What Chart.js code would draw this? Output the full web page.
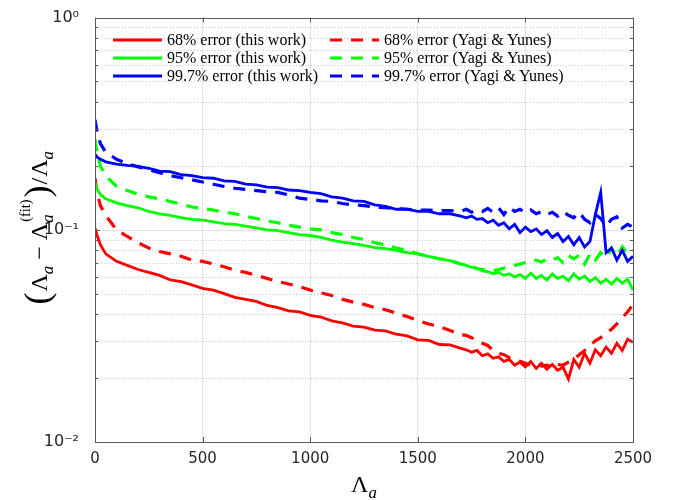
<!DOCTYPE html>
<html>
<head>
<meta charset="utf-8">
<script src="https://cdn.jsdelivr.net/npm/chart.js@4.4.1/dist/chart.umd.min.js"></script>
<style>
    html, body { margin: 0; padding: 0; background: #fff; }
    #wrap { position: relative; width: 688px; height: 500px; }
    #chart { display: block; }
    #legend {
        position: absolute; left: 113px; top: 31px;
        display: grid; grid-template-rows: repeat(3, 18px); grid-auto-flow: column;
        grid-template-columns: 217px auto;
        font-family: "Liberation Serif", serif; font-size: 16px; color: #000;
    }
    .item { display: flex; align-items: center; white-space: nowrap; }
    .item svg { margin-right: 5px; }
</style>
</head>
<body>
<div id="wrap">
    <canvas id="chart" width="688" height="500"></canvas>
    <div id="legend"></div>
</div>
<script>
"use strict";

/* ---------- data ---------- */

const lambdaA = [
    0, 10, 25,
    50, 100, 150, 200, 250, 300, 350, 400, 450, 500,
    550, 600, 650, 700, 750, 800, 850, 900, 950, 1000,
    1050, 1100, 1150, 1200, 1250, 1300, 1350, 1400, 1450, 1500,
    1550, 1600, 1650, 1700,
    1725, 1750, 1775, 1800, 1825, 1850, 1875, 1900, 1925, 1950,
    1975, 2000, 2025, 2050, 2075, 2100, 2125, 2150, 2175, 2200,
    2225, 2250, 2275, 2300, 2325, 2350, 2375, 2400, 2425, 2450,
    2475, 2500
];

const err68This = [
    0.102, 0.094, 0.085,
    0.077, 0.071, 0.068, 0.065, 0.063, 0.061, 0.058, 0.057, 0.055, 0.053,
    0.052, 0.050, 0.048, 0.047, 0.046, 0.044, 0.043, 0.0415, 0.041, 0.0395,
    0.0388, 0.0372, 0.0364, 0.0352, 0.0348, 0.0337, 0.0334, 0.0322, 0.0316, 0.0303,
    0.0301, 0.0288, 0.0287, 0.0276,
    0.0272, 0.0265, 0.027, 0.0255, 0.026, 0.0248, 0.0252, 0.024, 0.0245, 0.023,
    0.0238, 0.0226, 0.024, 0.0222, 0.0235, 0.022, 0.0232, 0.0218, 0.0225, 0.0198,
    0.0245, 0.0225, 0.0262, 0.0235, 0.0272, 0.0255, 0.028, 0.0262, 0.0292, 0.027,
    0.0305, 0.0295
];

const err95This = [
    0.167, 0.155, 0.147,
    0.140, 0.134, 0.130, 0.127, 0.122, 0.119, 0.117, 0.114, 0.112, 0.111,
    0.109, 0.107, 0.106, 0.104, 0.102, 0.100, 0.099, 0.097, 0.095, 0.094,
    0.092, 0.0895, 0.0875, 0.086, 0.0845, 0.0825, 0.0815, 0.080, 0.078, 0.077,
    0.075, 0.073, 0.0715, 0.069,
    0.068, 0.0665, 0.066, 0.064, 0.0635, 0.062, 0.063, 0.061, 0.062, 0.060,
    0.0615, 0.059, 0.0625, 0.059, 0.061, 0.058, 0.062, 0.059, 0.0605, 0.0575,
    0.062, 0.0585, 0.0605, 0.057, 0.0595, 0.056, 0.0585, 0.0555, 0.059, 0.056,
    0.0585, 0.052
];

const err997This = [
    0.227, 0.220, 0.215,
    0.209, 0.204, 0.201, 0.199, 0.195, 0.189, 0.188, 0.182, 0.180, 0.176,
    0.175, 0.170, 0.169, 0.164, 0.163, 0.159, 0.158, 0.154, 0.153, 0.150,
    0.148, 0.143, 0.141, 0.137, 0.136, 0.131, 0.129, 0.125, 0.125, 0.122,
    0.122, 0.119, 0.119, 0.116,
    0.114, 0.116, 0.112, 0.113, 0.108, 0.111, 0.105, 0.108, 0.101, 0.106,
    0.097, 0.103, 0.098, 0.101, 0.095, 0.099, 0.092, 0.096, 0.088, 0.093,
    0.085, 0.092, 0.083, 0.088, 0.118, 0.150, 0.078, 0.082, 0.072, 0.080,
    0.071, 0.075
];

const err68Yagi = [
    0.175, 0.150, 0.130,
    0.117, 0.100, 0.093, 0.087, 0.082, 0.079, 0.077, 0.075, 0.072, 0.071,
    0.069, 0.067, 0.0645, 0.063, 0.061, 0.059, 0.057, 0.0555, 0.054, 0.052,
    0.0505, 0.049, 0.047, 0.0456, 0.0445, 0.043, 0.042, 0.0405, 0.039, 0.0374,
    0.036, 0.035, 0.0335, 0.032,
    0.0318, 0.031, 0.0302, 0.0292, 0.0285, 0.027, 0.0262, 0.0258, 0.025, 0.0245,
    0.024, 0.0235, 0.023, 0.0235, 0.0228, 0.023, 0.0225, 0.0232, 0.023, 0.0238,
    0.0245, 0.0258, 0.027, 0.0285, 0.030, 0.031, 0.0325, 0.034, 0.036, 0.0385,
    0.041, 0.0445
];

const err95Yagi = [
    0.267, 0.230, 0.200,
    0.180, 0.160, 0.153, 0.147, 0.143, 0.140, 0.136, 0.132, 0.128, 0.126,
    0.124, 0.121, 0.119, 0.116, 0.113, 0.110, 0.108, 0.105, 0.103, 0.101,
    0.100, 0.097, 0.095, 0.092, 0.090, 0.087, 0.085, 0.082, 0.080, 0.077,
    0.075, 0.073, 0.0715, 0.069,
    0.068, 0.067, 0.0655, 0.065, 0.064, 0.064, 0.065, 0.066, 0.0665, 0.068,
    0.069, 0.070, 0.071, 0.072, 0.0705, 0.073, 0.072, 0.074, 0.070, 0.0755,
    0.073, 0.076, 0.069, 0.077, 0.072, 0.078, 0.074, 0.082, 0.075, 0.083,
    0.077, 0.080
];

const err997Yagi = [
    0.330, 0.290, 0.255,
    0.232, 0.215, 0.205, 0.198, 0.192, 0.186, 0.180, 0.176, 0.172, 0.168,
    0.164, 0.160, 0.157, 0.155, 0.153, 0.151, 0.150, 0.146, 0.141, 0.139,
    0.137, 0.136, 0.133, 0.131, 0.130, 0.128, 0.127, 0.126, 0.125, 0.124,
    0.124, 0.123, 0.123, 0.122,
    0.125, 0.121, 0.124, 0.122, 0.126, 0.121, 0.127, 0.118, 0.128, 0.122,
    0.125, 0.120, 0.124, 0.119, 0.122, 0.118, 0.121, 0.116, 0.122, 0.117,
    0.114, 0.121, 0.112, 0.108, 0.118, 0.113, 0.104, 0.112, 0.115, 0.102,
    0.106, 0.103
];

const seriesLabels = [
    "68% error (this work)",
    "95% error (this work)",
    "99.7% error (this work)",
    "68% error (Yagi & Yunes)",
    "95% error (Yagi & Yunes)",
    "99.7% error (Yagi & Yunes)"
];

const xTicks = [0, 500, 1000, 1500, 2000, 2500];
const yDecades = [0.01, 0.1, 1];
const yDecadeLabels = ["10\u207B\u00B2", "10\u207B\u00B9", "10\u2070"];


/* ---------- styles ---------- */

const RED = "#ff0000";
const GREEN = "#00ff00";
const BLUE = "#0000ff";
const DASH = [12, 9];
const TEXT = "#262626";
const AXIS = "#5a5a5a";
const MATH_FONT = '"Liberation Serif", serif';


function toPoints(values) {
    return values.map((v, i) => ({ x: lambdaA[i], y: v }));
}

function makeSet(label, values, color, dashed) {
    return {
        label: label,
        data: toPoints(values),
        borderColor: color,
        backgroundColor: color,
        borderWidth: dashed ? 3.2 : 2.8,
        borderDash: dashed ? DASH : [],
        pointRadius: 0,
        tension: 0,
        fill: false
    };
}

const datasets = [
    makeSet(seriesLabels[0], err68This, RED, false),
    makeSet(seriesLabels[1], err95This, GREEN, false),
    makeSet(seriesLabels[2], err997This, BLUE, false),
    makeSet(seriesLabels[3], err68Yagi, RED, true),
    makeSet(seriesLabels[4], err95Yagi, GREEN, true),
    makeSet(seriesLabels[5], err997Yagi, BLUE, true)
];


/* ---------- small math-text helper (sub/superscripts) ---------- */

function drawRuns(ctx, runs, size, align) {
    let x = 0, prevStart = 0, prevW = 0;
    const placed = [];
    runs.forEach(r => {
        const fs = size * (r.scale || 1);
        const font = (r.italic ? "italic " : "") + fs + "px " + MATH_FONT;
        ctx.font = font;
        const w = ctx.measureText(r.text).width;
        let start = x + (r.gap || 0);
        if (r.stack) {
            start = prevStart + (r.gap || 0);
            x = Math.max(prevStart + prevW, start + w);
        } else {
            x = start + w;
        }
        placed.push({ text: r.text, font: font, x: start, dy: r.dy || 0 });
        if (!r.stack) {
            prevStart = start;
            prevW = w;
        }
    });
    const off = align === "center" ? -x / 2 : 0;
    ctx.fillStyle = "#000";
    ctx.textBaseline = "alphabetic";
    ctx.textAlign = "left";
    placed.forEach(p => {
        ctx.font = p.font;
        ctx.fillText(p.text, off + p.x, p.dy);
    });
}

const yTitleRuns = [
    { text: "(", scale: 1.5, dy: 2 },
    { text: "\u039B", gap: 1 },
    { text: "a", italic: true, scale: 0.7, dy: 6 },
    { text: " \u2212 " },
    { text: "\u039B" },
    { text: "a", italic: true, scale: 0.7, dy: 6 },
    { text: "(fit)", scale: 0.6, dy: -17, stack: true, gap: 1 },
    { text: ")", scale: 1.5, dy: 2, gap: 2 },
    { text: "/", gap: 1 },
    { text: "\u039B", gap: 1 },
    { text: "a", italic: true, scale: 0.7, dy: 6 }
];

const xTitleRuns = [
    { text: "\u039B" },
    { text: "a", italic: true, scale: 0.7, dy: 6 }
];


/* ---------- plugin: grid, box, inner ticks, axis titles ---------- */

const matlabFrame = {
    id: "matlabFrame",
    beforeDatasetsDraw(chart) {
        const { ctx, chartArea: a, scales: { y } } = chart;
        ctx.save();
        ctx.lineWidth = 1;
        yDecades.forEach(d => {
            for (let k = 1; k <= 9; k++) {
                const v = d * k;
                if (v > 1.0000001) break;
                const py = Math.round(y.getPixelForValue(v)) + 0.5;
                if (k === 1) {
                    ctx.setLineDash([]);
                    ctx.strokeStyle = "#e0e0e0";
                } else {
                    ctx.setLineDash([1, 2]);
                    ctx.strokeStyle = "#c8c8c8";
                }
                ctx.beginPath();
                ctx.moveTo(a.left, py);
                ctx.lineTo(a.right, py);
                ctx.stroke();
            }
        });
        ctx.restore();
    },
    afterDatasetsDraw(chart) {
        const { ctx, chartArea: a, scales: { x, y } } = chart;
        ctx.save();
        ctx.strokeStyle = AXIS;
        ctx.lineWidth = 1;
        ctx.strokeRect(Math.round(a.left) + 0.5, Math.round(a.top) + 0.5,
            Math.round(a.right - a.left), Math.round(a.bottom - a.top));

        ctx.beginPath();
        xTicks.forEach(v => {
            const px = Math.round(x.getPixelForValue(v)) + 0.5;
            ctx.moveTo(px, a.bottom);
            ctx.lineTo(px, a.bottom - 5);
            ctx.moveTo(px, a.top);
            ctx.lineTo(px, a.top + 5);
        });
        yDecades.forEach(d => {
            for (let k = 1; k <= 9; k++) {
                const v = d * k;
                if (v > 1.0000001) break;
                const py = Math.round(y.getPixelForValue(v)) + 0.5;
                const len = k === 1 ? 5 : 3;
                ctx.moveTo(a.left, py);
                ctx.lineTo(a.left + len, py);
                ctx.moveTo(a.right, py);
                ctx.lineTo(a.right - len, py);
            }
        });
        ctx.stroke();
        ctx.restore();
    },
    afterDraw(chart) {
        const { ctx, chartArea: a } = chart;
        ctx.save();
        ctx.translate(47, (a.top + a.bottom) / 2 - 2);
        ctx.rotate(-Math.PI / 2);
        drawRuns(ctx, yTitleRuns, 24, "center");
        ctx.restore();

        ctx.save();
        ctx.translate((a.left + a.right) / 2, 492);
        drawRuns(ctx, xTitleRuns, 24, "center");
        ctx.restore();
    }
};


/* ---------- chart ---------- */

new Chart(document.getElementById("chart"), {
    type: "line",
    data: { datasets: datasets },
    plugins: [matlabFrame],
    options: {
        responsive: false,
        animation: false,
        devicePixelRatio: 1,
        layout: { padding: { top: 16, right: 55, left: 0, bottom: 0 } },
        plugins: {
            legend: { display: false },
            tooltip: { enabled: false }
        },
        scales: {
            x: {
                type: "linear",
                min: 0,
                max: 2500,
                afterBuildTicks: (scale) => {
                    scale.ticks = xTicks.map(v => ({ value: v }));
                },
                afterFit: (scale) => { scale.height = 58; },
                grid: { color: "#e3e3e3", drawTicks: false },
                border: { display: false },
                ticks: {
                    color: TEXT,
                    padding: 8,
                    maxRotation: 0,
                    font: { family: "DejaVu Sans", size: 15 },
                    callback: (v) => String(v)
                }
            },
            y: {
                type: "logarithmic",
                min: 0.01,
                max: 1,
                afterBuildTicks: (scale) => {
                    scale.ticks = yDecades.map(v => ({ value: v, major: true }));
                },
                afterFit: (scale) => { scale.width = 95; },
                grid: { display: false },
                border: { display: false },
                ticks: {
                    color: TEXT,
                    padding: 8,
                    autoSkip: false,
                    font: { family: "DejaVu Sans", size: 16 },
                    callback: (v) => {
                        const i = yDecades.findIndex(d => Math.abs(d - v) < d * 1e-6);
                        return i >= 0 ? yDecadeLabels[i] : "";
                    }
                }
            }
        }
    }
});


/* ---------- legend (real text) ---------- */

const legend = document.getElementById("legend");
datasets.forEach(ds => {
    const item = document.createElement("div");
    item.className = "item";
    const dash = ds.borderDash.length ? ' stroke-dasharray="' + ds.borderDash.join(" ") + '"' : "";
    item.innerHTML =
        '<svg width="49" height="6"><line x1="0" y1="3" x2="49" y2="3" stroke="' +
        ds.borderColor + '" stroke-width="' + ds.borderWidth + '"' + dash + '/></svg>';
    const span = document.createElement("span");
    span.textContent = ds.label;
    item.appendChild(span);
    legend.appendChild(item);
});
</script>
</body>
</html>
